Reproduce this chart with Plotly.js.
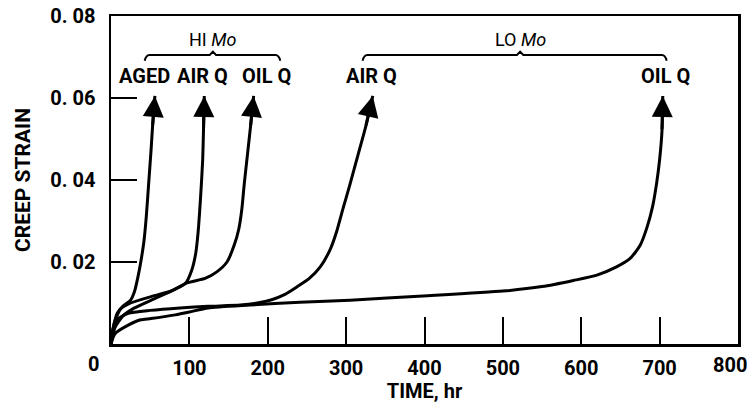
<!DOCTYPE html>
<html>
<head>
<meta charset="utf-8">
<script src="https://cdn.plot.ly/plotly-3.0.1.min.js"></script>
<style>html,body{margin:0;padding:0;background:#fff;}#chart{width:750px;height:403px;}</style>
</head>
<body>
<div id="chart"></div>
<script>
// ---- data ----
const hiAgedTime   = [0, 3, 8, 15, 25, 30, 34, 38, 42, 45, 48, 51, 53, 56];
const hiAgedStrain = [0, 0.004, 0.0075, 0.0092, 0.0107, 0.0128, 0.016, 0.020, 0.025, 0.031, 0.039, 0.047, 0.053, 0.0605];

const hiAirTime   = [0, 4, 12, 25, 50, 75, 95, 103, 108, 111, 113, 115, 117, 118, 119];
const hiAirStrain = [0, 0.005, 0.0085, 0.0100, 0.0115, 0.0128, 0.0148, 0.018, 0.022, 0.027, 0.032, 0.038, 0.045, 0.052, 0.0605];

const hiOilTime   = [0, 5, 15, 30, 55, 80, 97, 120, 135, 148, 157, 163, 167, 170, 174, 178, 182];
const hiOilStrain = [0, 0.004, 0.0068, 0.0088, 0.011, 0.0132, 0.0149, 0.016, 0.0176, 0.020, 0.024, 0.028, 0.033, 0.039, 0.046, 0.053, 0.0605];

const loAirTime   = [0, 3, 8, 22, 50, 88, 124, 165, 190, 205, 222, 237, 253, 267, 280, 288, 296, 305, 315, 325, 334];
const loAirStrain = [0, 0.004, 0.006, 0.0075, 0.0082, 0.0088, 0.0092, 0.0095, 0.0101, 0.0108, 0.0121, 0.0139, 0.016, 0.0188, 0.0232, 0.0275, 0.033, 0.039, 0.046, 0.053, 0.0605];

const loOilTime   = [0, 5, 22, 38, 51, 82, 100, 124, 177, 241, 305, 398, 500, 550, 590, 620, 645, 662, 675, 684, 691, 696, 700, 703, 704];
const loOilStrain = [0, 0.0025, 0.0046, 0.0059, 0.0062, 0.0071, 0.0078, 0.0088, 0.0095, 0.0102, 0.0107, 0.0117, 0.0129, 0.014, 0.0155, 0.0168, 0.0188, 0.0208, 0.024, 0.0285, 0.0335, 0.039, 0.045, 0.052, 0.0605];

const xTickVals = [0, 100, 200, 300, 400, 500, 600, 700, 800];
const xTickText = ['', '100', '200', '300', '400', '500', '600', '700', ''];
const xCornerLabels = ['0', '800'];
const yTickVals = [0.02, 0.04, 0.06, 0.08];
const yTickText = ['0. 02', '0. 04', '0. 06', '0. 08'];

const curveLabels = ['AGED', 'AIR Q', 'OIL Q', 'AIR Q', 'OIL Q'];
const groupLabels = ['HI <i>Mo</i>', 'LO <i>Mo</i>'];

// ---- drawing ----
const FAM = 'Roboto, "Liberation Sans", sans-serif';
const bold = (size) => ({family: FAM, size: size, color: '#000', weight: 'bold'});
const series = [
  [hiAgedTime, hiAgedStrain],
  [hiAirTime, hiAirStrain],
  [hiOilTime, hiOilStrain],
  [loAirTime, loAirStrain],
  [loOilTime, loOilStrain]
];

const traces = series.map(([t, s]) => ({
  x: t, y: s,
  type: 'scatter',
  mode: 'lines',
  line: {color: '#000', width: 3, shape: 'spline', smoothing: 0.6},
  hoverinfo: 'skip',
  showlegend: false
}));

const annotations = [];
series.forEach(([t, s]) => {
  const n = t.length;
  annotations.push({
    x: t[n - 1], y: s[n - 1], xref: 'x', yref: 'y',
    ax: t[n - 2], ay: s[n - 2], axref: 'x', ayref: 'y',
    showarrow: true, arrowhead: 2, arrowsize: 1.4, arrowwidth: 3,
    arrowcolor: '#000', standoff: 0, startstandoff: 0, text: ''
  });
});
const labelX = [43, 117, 198, 333, 707];
curveLabels.forEach((txt, i) => {
  annotations.push({
    x: labelX[i], y: 0.0654, xref: 'x', yref: 'y', text: txt, showarrow: false,
    font: bold(20)
  });
});
const groupX = [130, 522];
groupLabels.forEach((txt, i) => {
  annotations.push({
    x: groupX[i], y: 0.0742, xref: 'x', yref: 'y', text: txt, showarrow: false,
    font: {family: FAM, size: 18, color: '#000'}
  });
});
annotations.push({
  x: 0, y: 0, xref: 'x', yref: 'y', text: xCornerLabels[0], showarrow: false,
  xshift: -18, yshift: -20, font: bold(20)
});
annotations.push({
  x: 800, y: 0, xref: 'x', yref: 'y', text: xCornerLabels[1], showarrow: false,
  xanchor: 'right', xshift: 11, yshift: -21, font: bold(20)
});

function brace(x0, xc, x1, yl) {
  const d = 0.0014, p = 0.0008, w = 6;
  return `M ${x0},${yl - d} Q ${x0 + w * 0.3},${yl} ${x0 + w},${yl} ` +
         `L ${xc - 4},${yl} L ${xc},${yl + p} L ${xc + 4},${yl} ` +
         `L ${x1 - w},${yl} Q ${x1 - w * 0.3},${yl} ${x1},${yl - d}`;
}
const shapes = [
  {type: 'path', xref: 'x', yref: 'y', path: brace(43, 130, 216, 0.0705), line: {color: '#000', width: 2}},
  {type: 'path', xref: 'x', yref: 'y', path: brace(321, 522, 709, 0.0705), line: {color: '#000', width: 2}}
];

const layout = {
  width: 750, height: 403,
  margin: {l: 111, r: 12, t: 16, b: 59},
  paper_bgcolor: '#fff', plot_bgcolor: '#fff',
  showlegend: false,
  font: {family: FAM, color: '#000'},
  xaxis: {
    range: [0, 800], tickvals: xTickVals, ticktext: xTickText,
    ticks: 'inside', ticklen: 27, tickwidth: 2, tickcolor: '#000',
    showline: true, linewidth: 2.5, linecolor: '#000', mirror: true,
    showgrid: false, zeroline: false,
    tickfont: bold(20), ticklabelstandoff: 4,
    title: {text: 'TIME, hr', font: bold(20), standoff: 4}
  },
  yaxis: {
    range: [0, 0.08], tickvals: yTickVals, ticktext: yTickText,
    ticks: 'inside', ticklen: 26, tickwidth: 2, tickcolor: '#000',
    showline: true, linewidth: 2.5, linecolor: '#000', mirror: true,
    showgrid: false, zeroline: false,
    tickfont: bold(20), ticklabelstandoff: 9,
    title: {text: 'CREEP STRAIN', font: bold(21), standoff: 14}
  },
  annotations: annotations,
  shapes: shapes
};

Plotly.newPlot('chart', traces, layout, {staticPlot: true, displayModeBar: false});
</script>
</body>
</html>
